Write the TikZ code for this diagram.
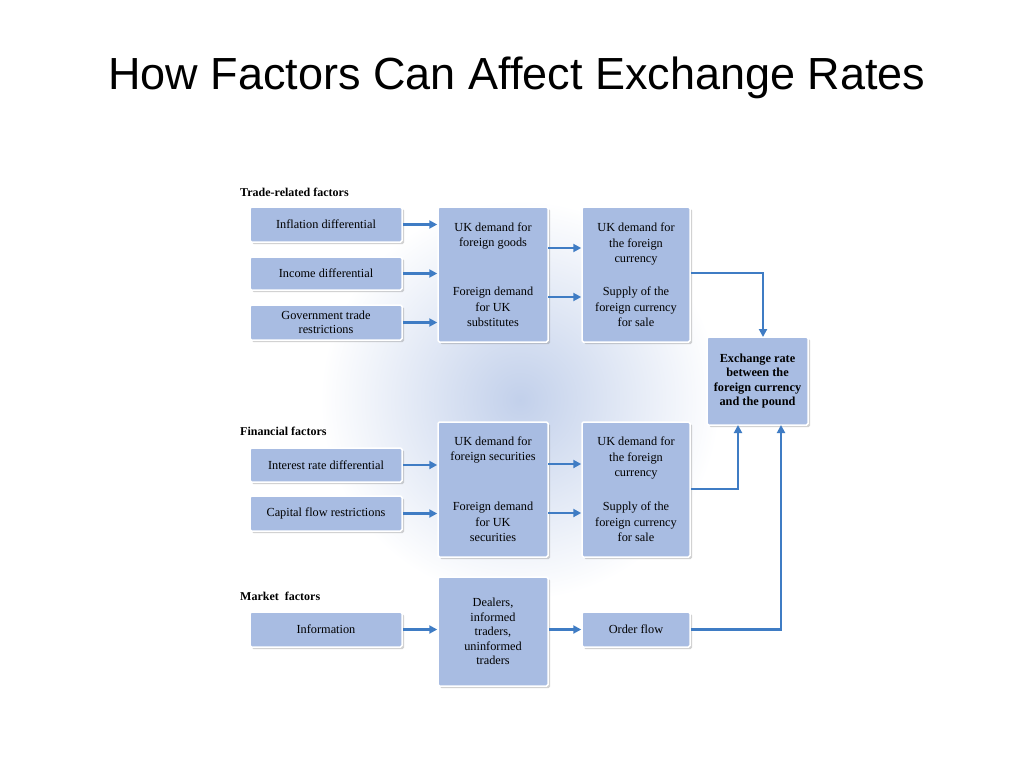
\documentclass[tikz,border=0pt]{standalone}
\usepackage{fontspec}
\setmainfont{Liberation Serif}
\newfontfamily\titlefont{Liberation Sans}
\usetikzlibrary{arrows.meta,shadows}
\definecolor{boxfill}{HTML}{A8BCE2}
\definecolor{arr}{HTML}{3F7CC4}
\begin{document}
\begin{tikzpicture}[x=1pt,y=-1pt,
  bx/.style={draw=white,line width=1.5pt,fill=boxfill,rounded corners=1.5pt,
    drop shadow={shadow xshift=2pt,shadow yshift=-2pt,opacity=0.35},
    font=\fontsize{12.3}{14.5}\selectfont,align=center,inner sep=2pt},
  ar/.style={draw=arr,line width=2.6pt,-{Triangle[length=8pt,width=8pt]}},
  hd/.style={font=\fontsize{12}{13}\selectfont\bfseries,anchor=west,inner sep=0pt}]
\useasboundingbox (0,0) rectangle (1024,768);
\fill[white] (0,0) rectangle (1024,768);
\shade[inner color=boxfill!70,outer color=white] (520,400) ellipse (200 and 200);
\node[font=\titlefont\fontsize{45}{50}\selectfont] (title) at (517,78) {How Factors Can Affect Exchange Rates};
\def\bxx#1#2#3#4#5#6{\node[bx,minimum width=#3-#1,minimum height=#4-#2] (#5) at ({(#1+#3)/2},{(#2+#4)/2}) {#6};}
\node[hd] (h1) at (240,192) {Trade-related factors};
\node[hd] (h2) at (240,431) {Financial factors};
\node[hd] (h3) at (240,596) {Market\ \ factors};
\bxx{250}{207}{402}{242}{a1}{Inflation differential}
\bxx{250}{257}{402}{290}{a2}{Income differential}
\bxx{250}{305}{402}{340}{a3}{Government trade\\restrictions}
\bxx{438}{207}{548}{342}{m1}{}
\bxx{582}{207}{690}{342}{r1}{}
\bxx{707}{337}{808}{425}{ex}{\bfseries Exchange rate\\\bfseries between the\\\bfseries foreign currency\\\bfseries and the pound}
\bxx{250}{448}{402}{482}{b1}{Interest rate differential}
\bxx{250}{496}{402}{531}{b2}{Capital flow restrictions}
\bxx{438}{422}{548}{557}{m2}{}
\bxx{582}{422}{690}{557}{r2}{}
\bxx{250}{612}{402}{647}{c1}{Information}
\bxx{438}{577}{548}{686}{m3}{Dealers,\\informed\\traders,\\uninformed\\traders}
\bxx{582}{612}{690}{647}{r3}{Order flow}
\tikzset{tx/.style={font=\fontsize{12.3}{15.5}\selectfont,align=center,inner sep=0pt}}
\node[tx] (m1a) at (493,236) {UK demand for\\foreign goods};
\node[tx] (m1b) at (493,307) {Foreign demand\\for UK\\substitutes};
\node[tx] (r1a) at (636,244) {UK demand for\\the foreign\\currency};
\node[tx] (r1b) at (636,307) {Supply of the\\foreign currency\\for sale};
\node[tx] (m2a) at (493,450) {UK demand for\\foreign securities};
\node[tx] (m2b) at (493,522) {Foreign demand\\for UK\\securities};
\node[tx] (r2a) at (636,458) {UK demand for\\the foreign\\currency};
\node[tx] (r2b) at (636,522) {Supply of the\\foreign currency\\for sale};
\coordinate (e1) at (763,337);
\coordinate (e2) at (738,425);
\coordinate (e3) at (781,425);
\draw[ar] (a1.east) -- (a1.east -| m1.west);
\draw[ar] (a2.east) -- (a2.east -| m1.west);
\draw[ar] (a3.east) -- (a3.east -| m1.west);
\draw[ar] (548,248) -- (r1.west |- 0,248);
\draw[ar] (548,297) -- (r1.west |- 0,297);
\draw[ar] (r1.east |- 0,273) -| (e1);
\draw[ar] (b1.east) -- (b1.east -| m2.west);
\draw[ar] (b2.east) -- (b2.east -| m2.west);
\draw[ar] (548,464) -- (r2.west |- 0,464);
\draw[ar] (548,513) -- (r2.west |- 0,513);
\draw[ar] (r2.east |- 0,489) -| (e2);
\draw[ar] (c1.east) -- (c1.east -| m3.west);
\draw[ar] (m3.east |- r3.west) -- (r3.west);
\draw[ar] (r3.east) -| (e3);
\end{tikzpicture}
\end{document}
